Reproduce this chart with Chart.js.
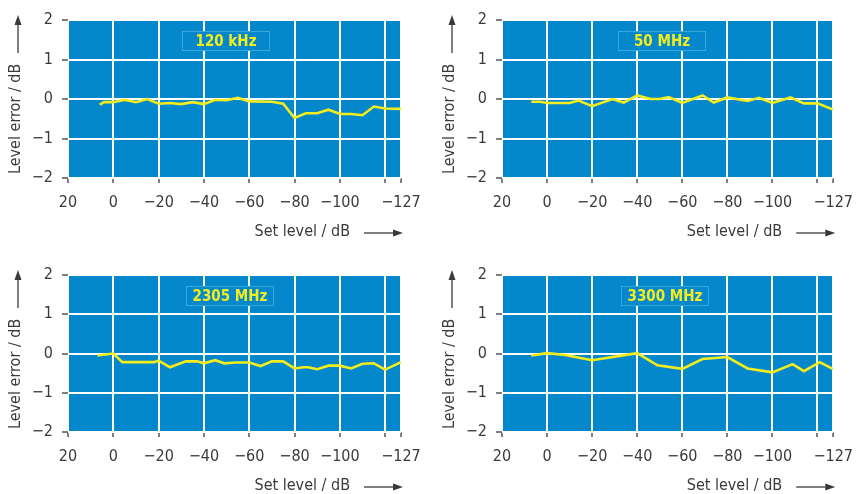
<!DOCTYPE html>
<html>
<head>
<meta charset="utf-8">
<script src="https://cdn.jsdelivr.net/npm/chart.js@4"></script>
<style>
  html, body { margin: 0; padding: 0; background: #fff; }
  body { width: 863px; height: 494px; position: relative; overflow: hidden; }
  .panel { position: absolute; }
</style>
</head>
<body>
<div class="panel" style="left:0;top:0"><canvas id="c120k" width="431" height="248"></canvas></div>
<div class="panel" style="left:434px;top:0"><canvas id="c50m" width="429" height="248"></canvas></div>
<div class="panel" style="left:0;top:250px"><canvas id="c2305m" width="431" height="244"></canvas></div>
<div class="panel" style="left:434px;top:250px"><canvas id="c3300m" width="429" height="244"></canvas></div>
<script>
// set level (dB) / level error (dB)
const level120k = [6, 4, 0, -5, -10, -15, -20, -25, -30, -35, -40, -45, -50, -55, -60, -70, -75, -80, -85, -90, -95, -100, -105, -110, -115, -120, -127];
const error120k = [-0.14, -0.08, -0.08, -0.02, -0.08, 0.0, -0.12, -0.1, -0.13, -0.08, -0.13, -0.02, -0.03, 0.03, -0.06, -0.07, -0.12, -0.48, -0.36, -0.36, -0.27, -0.38, -0.38, -0.41, -0.19, -0.24, -0.25];

const level50m = [7, 3, 0, -10, -14, -20, -29, -34, -40, -46, -50, -54, -60, -69, -74, -80, -89, -94, -100, -108, -114, -120, -127];
const error50m = [-0.07, -0.07, -0.1, -0.1, -0.04, -0.18, 0.0, -0.09, 0.09, 0.0, 0.0, 0.05, -0.1, 0.09, -0.09, 0.04, -0.05, 0.03, -0.1, 0.04, -0.11, -0.11, -0.27];

const level2305m = [7, 0, -4, -18, -20, -25, -32, -37, -40, -45, -49, -54, -60, -65, -70, -75, -80, -84, -86, -90, -95, -100, -105, -110, -115, -120, -127];
const error2305m = [-0.05, 0.0, -0.22, -0.22, -0.18, -0.35, -0.2, -0.2, -0.25, -0.17, -0.25, -0.23, -0.23, -0.32, -0.2, -0.2, -0.38, -0.35, -0.35, -0.4, -0.31, -0.31, -0.38, -0.26, -0.25, -0.41, -0.22];

const level3300m = [7, 0, -8, -20, -40, -49, -60, -69, -80, -89, -100, -109, -114, -121, -127];
const error3300m = [-0.05, 0.01, -0.04, -0.17, 0.01, -0.3, -0.39, -0.14, -0.09, -0.38, -0.48, -0.27, -0.45, -0.22, -0.4];

const xTicks = [20, 0, -20, -40, -60, -80, -100, -120, -127];
const yMin = -2, yMax = 2;

const FONT = "'Liberation Sans Narrow', 'DejaVu Sans Condensed', 'Liberation Sans', sans-serif";
const BLUE = "#0588cb";
const YELLOW = "#f4ec1c";
const INK = "#3a3a3a";

const minus = s => String(s).replace("-", "\u2212");

const drawArrow = (ctx, x1, y1, x2, y2) => {
	const ang = Math.atan2(y2 - y1, x2 - x1);
	const head = 10, half = 3.5;
	ctx.save();
	ctx.strokeStyle = INK;
	ctx.fillStyle = INK;
	ctx.lineWidth = 1.3;
	ctx.beginPath();
	ctx.moveTo(x1, y1);
	ctx.lineTo(x2 - head * Math.cos(ang), y2 - head * Math.sin(ang));
	ctx.stroke();
	ctx.translate(x2, y2);
	ctx.rotate(ang);
	ctx.beginPath();
	ctx.moveTo(0, 0);
	ctx.lineTo(-head, -half);
	ctx.lineTo(-head, half);
	ctx.closePath();
	ctx.fill();
	ctx.restore();
};

const panelDecor = {
	id: "panelDecor",
	beforeDraw(chart) {
		const { ctx, chartArea: a } = chart;
		ctx.save();
		ctx.fillStyle = BLUE;
		ctx.fillRect(a.left, a.top, a.right - a.left, a.bottom - a.top);
		ctx.restore();
	},
	afterDraw(chart, args, opts) {
		const { ctx, chartArea: a } = chart;
		ctx.save();

		// frequency label box
		const bw = 88, bh = 20;
		const bx = a.left + opts.boxCenter - bw / 2;
		const by = a.top + 11;
		ctx.fillStyle = BLUE;
		ctx.fillRect(bx, by, bw, bh);
		ctx.strokeStyle = "#3aa6dc";
		ctx.lineWidth = 1;
		ctx.strokeRect(bx + 0.5, by + 0.5, bw - 1, bh - 1);
		ctx.fillStyle = YELLOW;
		ctx.font = "bold 15px " + FONT;
		ctx.textAlign = "center";
		ctx.textBaseline = "middle";
		ctx.fillText(opts.title, bx + bw / 2, by + bh / 2 + 1);

		// axis titles
		ctx.fillStyle = INK;
		ctx.font = "16px " + FONT;
		ctx.textAlign = "right";
		ctx.fillText("Set level / dB", a.right - 51, a.bottom + 54);
		drawArrow(ctx, a.right - 37, a.bottom + 55, a.right + 2, a.bottom + 55);

		ctx.save();
		ctx.translate(a.left - 52, a.top + 154);
		ctx.rotate(-Math.PI / 2);
		ctx.textAlign = "left";
		ctx.fillText("Level error / dB", 0, 0);
		ctx.restore();
		drawArrow(ctx, a.left - 50, a.top + 33, a.left - 50, a.top - 5);

		ctx.restore();
	},
};

const makeChart = (id, title, levels, errors, pad, boxCenter) => {
	const points = levels.map((x, i) => ({ x, y: errors[i] }));
	new Chart(document.getElementById(id), {
		type: "line",
		plugins: [panelDecor],
		data: {
			datasets: [
				{
					data: points,
					borderColor: YELLOW,
					borderWidth: 2.6,
					pointRadius: 0,
					tension: 0,
					fill: false,
				},
			],
		},
		options: {
			responsive: false,
			animation: false,
			layout: { padding: pad },
			plugins: {
				legend: { display: false },
				tooltip: { enabled: false },
				panelDecor: { title, boxCenter },
			},
			scales: {
				x: {
					type: "linear",
					min: -127,
					max: 20,
					reverse: true,
					afterBuildTicks: scale => {
						scale.ticks = xTicks.map(value => ({ value }));
					},
					afterFit: scale => {
						scale.height = 30;
					},
					border: { display: false },
					grid: { color: "#ffffff", lineWidth: 2, tickColor: INK, tickLength: 5, tickWidth: 1.3 },
					ticks: {
						autoSkip: false,
						maxRotation: 0,
						padding: 10,
						color: INK,
						font: { family: FONT, size: 16 },
						callback: v => (v === -120 ? "" : minus(v)),
					},
				},
				y: {
					min: yMin,
					max: yMax,
					afterFit: scale => {
						scale.width = 68;
					},
					border: { display: false },
					grid: { color: "#ffffff", lineWidth: 2, tickColor: INK, tickLength: 6, tickWidth: 1.3 },
					ticks: {
						stepSize: 1,
						padding: 9,
						color: INK,
						font: { family: FONT, size: 16 },
						callback: v => minus(v),
					},
				},
			},
		},
	});
};

makeChart("c120k", "120 kHz", level120k, error120k, { left: 0, right: 30, top: 20, bottom: 40 }, 158);
makeChart("c50m", "50 MHz", level50m, error50m, { left: 0, right: 27, top: 20, bottom: 40 }, 160);
makeChart("c2305m", "2305 MHz", level2305m, error2305m, { left: 0, right: 30, top: 25, bottom: 32 }, 162);
makeChart("c3300m", "3300 MHz", level3300m, error3300m, { left: 0, right: 27, top: 25, bottom: 32 }, 163);
</script>
</body>
</html>
